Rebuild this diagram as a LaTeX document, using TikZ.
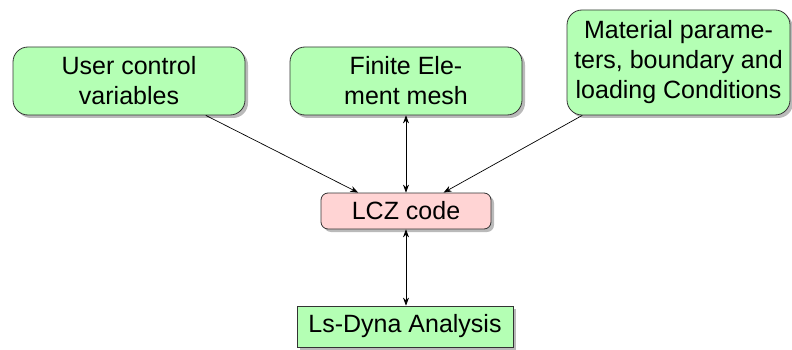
\documentclass[tikz,border=0pt]{standalone}
\usepackage{fontspec}
\setmainfont{Liberation Sans}
\usetikzlibrary{shadows,calc,arrows.meta}
\definecolor{boxgreen}{RGB}{180,255,180}
\definecolor{boxpink}{RGB}{255,212,212}
\tikzset{
  shad/.style={drop shadow={shadow xshift=3pt,shadow yshift=-3pt,fill=black!45,opacity=0.6}},
  greenbox/.style={draw=black!80,line width=0.8pt,fill=boxgreen,rounded corners=15pt,shad,
    align=center,font=\fontsize{25}{30}\selectfont,inner sep=0pt},
  pinkbox/.style={draw=black!80,line width=0.8pt,fill=boxpink,rounded corners=7pt,shad,
    align=center,font=\fontsize{25}{30}\selectfont,inner sep=0pt},
  plainbox/.style={draw=black!80,line width=0.8pt,fill=boxgreen,shad,
    align=center,font=\fontsize{25}{30}\selectfont,inner sep=0pt},
  conn/.style={line width=0.7pt,-{Stealth[length=8pt,width=6pt]}},
  dconn/.style={line width=0.7pt,{Stealth[length=8pt,width=6pt]}-{Stealth[length=8pt,width=6pt]}}
}
\begin{document}
\begin{tikzpicture}[x=1pt,y=-1pt]
\useasboundingbox (0,0) rectangle (792,350);
\node[greenbox,minimum width=232pt,minimum height=68pt] (user) at (129,81) {User control\\variables};
\node[greenbox,minimum width=232pt,minimum height=68pt] (fem) at (406,81) {Finite Ele-\\ment mesh};
\node[greenbox,minimum width=223pt,minimum height=105pt] (mat) at (678.5,62.5) {Material parame-\\ters, boundary and\\loading Conditions};
\node[pinkbox,minimum width=170pt,minimum height=36pt] (lcz) at (406,211) {LCZ code};
\node[plainbox,minimum width=216pt,minimum height=41pt] (dyna) at (405,326.5) {Ls-Dyna Analysis};
\coordinate (u1) at ($(user.south west)!0.83!(user.south east)$);
\coordinate (l1) at ($(lcz.north west)!0.22!(lcz.north east)$);
\coordinate (m1) at ($(mat.south west)!0.07!(mat.south east)$);
\coordinate (l2) at ($(lcz.north west)!0.72!(lcz.north east)$);
\draw[conn] (u1) -- (l1);
\draw[conn] (m1) -- (l2);
\draw[dconn] (fem.south) -- (fem.south |- lcz.north);
\draw[dconn] (lcz.south) -- (lcz.south |- dyna.north);
\end{tikzpicture}
\end{document}
